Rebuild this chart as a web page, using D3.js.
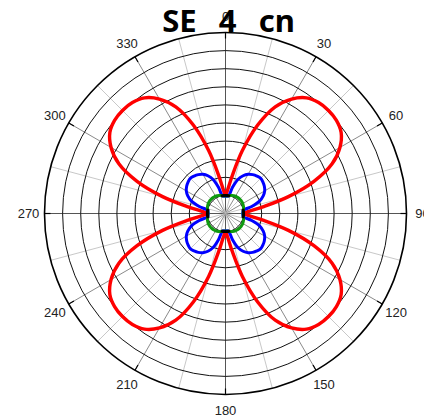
<!DOCTYPE html>
<html><head><meta charset="utf-8">
<script src="https://cdn.jsdelivr.net/npm/d3@7"></script>
<style>body{margin:0;background:#fff}svg{display:block}</style>
</head><body>
<script>
const titleText = "SE\u00A0\u00A04\u00A0\u00A0cn";
const angleLabels = [0,30,60,90,120,150,180,210,240,270,300,330];
const ringValues = [1,2,3,4,5,6,7,8,9,10];
const spokeAngles = d3.range(0,360,15);
const angles = d3.range(0,360,5);
const redValues = [
 1.0,1.3,2.1,3.6,5.2,6.5,7.3,7.8,8.0,8.05,8.0,7.8,7.3,6.5,5.2,3.6,2.1,1.3,
 1.0,1.3,2.1,3.6,5.2,6.5,7.3,7.8,8.0,8.05,8.0,7.8,7.3,6.5,5.2,3.6,2.1,1.3,
 1.0,1.3,2.1,3.6,5.2,6.5,7.3,7.8,8.0,8.05,8.0,7.8,7.3,6.5,5.2,3.6,2.1,1.3,
 1.0,1.3,2.1,3.6,5.2,6.5,7.3,7.8,8.0,8.05,8.0,7.8,7.3,6.5,5.2,3.6,2.1,1.3];
const blueValues = [
 0.95,0.96,1.0,1.5,2.0,2.3,2.5,2.62,2.7,2.75,2.7,2.62,2.5,2.3,2.0,1.5,1.0,0.96,
 0.95,0.96,1.0,1.5,2.0,2.3,2.5,2.62,2.7,2.75,2.7,2.62,2.5,2.3,2.0,1.5,1.0,0.96,
 0.95,0.96,1.0,1.5,2.0,2.3,2.5,2.62,2.7,2.75,2.7,2.62,2.5,2.3,2.0,1.5,1.0,0.96,
 0.95,0.96,1.0,1.5,2.0,2.3,2.5,2.62,2.7,2.75,2.7,2.62,2.5,2.3,2.0,1.5,1.0,0.96];
const greenValues = [
 0.97,0.98,1.0,1.03,1.06,1.08,1.1,1.11,1.12,1.12,1.12,1.11,1.1,1.08,1.06,1.03,1.0,0.98,
 0.97,0.98,1.0,1.03,1.06,1.08,1.1,1.11,1.12,1.12,1.12,1.11,1.1,1.08,1.06,1.03,1.0,0.98,
 0.97,0.98,1.0,1.03,1.06,1.08,1.1,1.11,1.12,1.12,1.12,1.11,1.1,1.08,1.06,1.03,1.0,0.98,
 0.97,0.98,1.0,1.03,1.06,1.08,1.1,1.11,1.12,1.12,1.12,1.11,1.1,1.08,1.06,1.03,1.0,0.98];
const blackValues = [
 1.0,1.0,1.0,0.99,null,null,null,null,null,null,null,null,null,null,null,0.99,1.0,1.0,
 1.0,1.0,1.0,0.99,null,null,null,null,null,null,null,null,null,null,null,0.99,1.0,1.0,
 1.0,1.0,1.0,0.99,null,null,null,null,null,null,null,null,null,null,null,0.99,1.0,1.0,
 1.0,1.0,1.0,0.99,null,null,null,null,null,null,null,null,null,null,null,0.99,1.0,1.0];

const W = 424, H = 419, cx = 225.5, cy = 213.5, R = 181;
const svg = d3.select("body").append("svg").attr("width", W).attr("height", H);
const g = svg.append("g").attr("transform", `translate(${cx},${cy})`);
const r = d3.scaleLinear().domain([0,10]).range([0,R]);
const rad = d => d * Math.PI / 180;

// spokes
g.selectAll("line.spoke").data(spokeAngles).join("line")
  .attr("x1",0).attr("y1",0)
  .attr("x2", d => r(10)*Math.sin(rad(d)))
  .attr("y2", d => -r(10)*Math.cos(rad(d)))
  .attr("stroke", d => d % 90 === 0 ? "#555" : (d % 30 === 0 ? "#8a8a8a" : "#c8c8c8"))
  .attr("stroke-width", 1);

// rings
g.selectAll("circle.ring").data(ringValues.slice(0,-1)).join("circle")
  .attr("r", d => r(d)).attr("fill","none").attr("stroke","#111").attr("stroke-width",1);
g.append("circle").attr("r", r(10)).attr("fill","none").attr("stroke","#000").attr("stroke-width",1.6);

// ticks
g.selectAll("line.tick").data(angleLabels).join("line")
  .attr("x1", d => r(10)*Math.sin(rad(d))).attr("y1", d => -r(10)*Math.cos(rad(d)))
  .attr("x2", d => (r(10)-6)*Math.sin(rad(d))).attr("y2", d => -(r(10)-6)*Math.cos(rad(d)))
  .attr("stroke","#000").attr("stroke-width",1.2);

const line = d3.lineRadial().angle(d => rad(d[0])).radius(d => r(d[1]))
  .defined(d => d[1] != null).curve(d3.curveCatmullRomClosed);
const lineOpen = d3.lineRadial().angle(d => rad(d[0])).radius(d => r(d[1]))
  .defined(d => d[1] != null).curve(d3.curveCatmullRom);

const series = [
  {vals: redValues, color: "#ff0000", w: 3.4},
  {vals: blueValues, color: "#0000ff", w: 3},
  {vals: greenValues, color: "#109a10", w: 3}
];
series.forEach(s => {
  g.append("path").attr("d", line(angles.map((a,i)=>[a, s.vals[i]])))
    .attr("fill","none").attr("stroke", s.color).attr("stroke-width", s.w).attr("stroke-linejoin","round");
});
// black series: wrap around 0
const blackPts = angles.map((a,i)=>[a, blackValues[i]]);
const wrapped = blackPts.concat([[360, blackValues[0]],[365, blackValues[1]],[370,blackValues[2]],[375,blackValues[3]]]);
g.append("path").attr("d", lineOpen(wrapped.slice(3)))
  .attr("fill","none").attr("stroke","#000").attr("stroke-width",3);

// angle labels
g.selectAll("text.al").data(angleLabels).join("text")
  .attr("x", d => (r(10)+16)*Math.sin(rad(d)))
  .attr("y", d => -(r(10)+16)*Math.cos(rad(d)))
  .attr("dy","0.36em").attr("text-anchor","middle")
  .style("font-family","'Liberation Sans', Arial, sans-serif").style("font-size","13px").attr("fill","#222")
  .text(d => d);

svg.append("text").attr("x", 228.5).attr("y", 32).attr("text-anchor","middle")
  .style("font-family","'Noto Sans', 'Open Sans', sans-serif").style("font-weight","bold")
  .style("font-size","31px").style("word-spacing","3px").attr("fill","#000")
  .text(titleText);
</script>
</body></html>
